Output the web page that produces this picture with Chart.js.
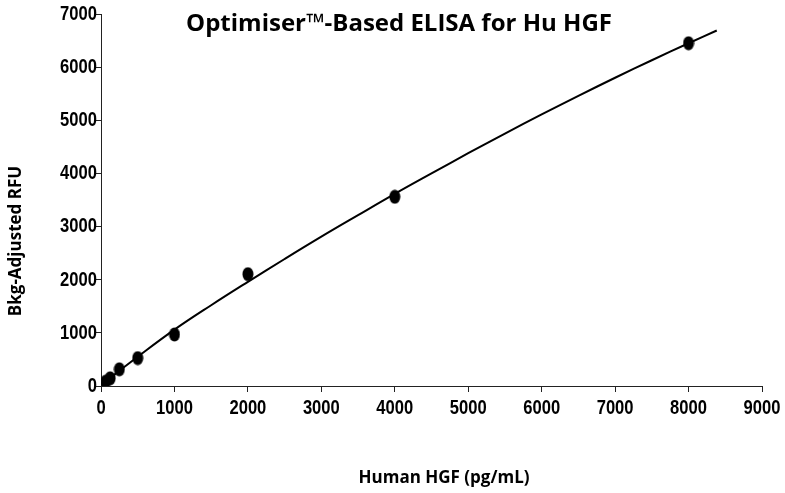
<!DOCTYPE html>
<html>
<head>
<meta charset="utf-8">
<title>Optimiser-Based ELISA for Hu HGF</title>
<script src="https://cdn.jsdelivr.net/npm/chart.js@4"></script>
<style>
  body { margin: 0; background: #fff; }
  #wrap { width: 785px; height: 493px; }
</style>
</head>
<body>
<div id="wrap"><canvas id="chartCanvas" width="785" height="493"></canvas></div>
<script>
// standards (pg/mL) and measured signal
const concentrations = [62.5, 125, 250, 500, 1000, 2000, 4000, 8000];
const rfuValues = [80, 145, 315, 525, 970, 2105, 3560, 6450];

// fitted curve
const fitX = [20, 500, 1000, 1500, 2000, 2500, 3000, 3500, 4000, 4500, 5000, 5500, 6000, 6500, 7000, 7500, 8000, 8384];
const fitY = [40, 550, 1060, 1520, 1960, 2390, 2810, 3215, 3615, 4000, 4380, 4750, 5110, 5460, 5800, 6130, 6450, 6690];

const xTicks = [0, 1000, 2000, 3000, 4000, 5000, 6000, 7000, 8000, 9000];
const yTicks = [0, 1000, 2000, 3000, 4000, 5000, 6000, 7000];

const chartTitle = "Optimiser\u2122-Based ELISA for Hu HGF";
const xTitle = "Human HGF (pg/mL)";
const yTitle = "Bkg-Adjusted RFU";

// oval marker like the original
function makeDot() {
  const c = document.createElement("canvas");
  c.width = 12;
  c.height = 15;
  const g = c.getContext("2d");
  g.fillStyle = "#000";
  g.beginPath();
  g.ellipse(6, 7.5, 5.5, 7, 0, 0, Math.PI * 2);
  g.fill();
  return c;
}

// no narrow font installed, so squeeze the tick labels by hand
function narrowText(ctx, text, x, y, align) {
  ctx.save();
  ctx.translate(x, y);
  ctx.scale(0.79, 1);
  ctx.textAlign = align;
  ctx.fillText(text, 0, 0);
  ctx.restore();
}

// title sits inside the plot area and axis titles are off-centre in the original
const textPlugin = {
  id: "texts",
  afterDraw(chart) {
    const ctx = chart.ctx;
    const sx = chart.scales.x;
    const sy = chart.scales.y;
    ctx.save();
    ctx.fillStyle = "#000";
    ctx.textBaseline = "middle";

    ctx.font = "bold 21px 'Liberation Sans', Arial, sans-serif";
    xTicks.forEach((v) => narrowText(ctx, String(v), sx.getPixelForValue(v), 408, "center"));
    yTicks.forEach((v) => narrowText(ctx, String(v), sx.left - 4, sy.getPixelForValue(v), "right"));

    ctx.textAlign = "center";
    ctx.font = "bold 24px 'Open Sans', sans-serif";
    ctx.fillText(chartTitle, 399, 24);
    ctx.font = "bold 17px 'Open Sans', sans-serif";
    ctx.fillText(xTitle, 444, 478);
    ctx.translate(16, 241);
    ctx.rotate(-Math.PI / 2);
    ctx.fillText(yTitle, 0, 0);
    ctx.restore();
  },
};

const ctx = document.getElementById("chartCanvas").getContext("2d");
window.myChart = new Chart(ctx, {
  type: "scatter",
  data: {
    datasets: [
      {
        label: "Fit",
        data: fitX.map((x, i) => ({ x: x, y: fitY[i] })),
        showLine: true,
        borderColor: "#000",
        borderWidth: 2,
        pointRadius: 0,
        tension: 0.4,
      },
      {
        label: "Standards",
        data: concentrations.map((x, i) => ({ x: x, y: rfuValues[i] })),
        pointStyle: makeDot(),
        backgroundColor: "#000",
      },
    ],
  },
  options: {
    responsive: false,
    animation: false,
    layout: { padding: { top: 14, right: 23, left: 0, bottom: 0 } },
    plugins: {
      legend: { display: false },
      tooltip: { enabled: false },
    },
    scales: {
      x: {
        type: "linear",
        min: 0,
        max: 9000,
        afterBuildTicks: (axis) => { axis.ticks = xTicks.map((v) => ({ value: v })); },
        afterFit: (axis) => { axis.height = 107; },
        grid: { drawOnChartArea: false, drawTicks: true, tickLength: 6, color: "#222" },
        border: { color: "#222", width: 1 },
        ticks: { display: false },
      },
      y: {
        type: "linear",
        min: 0,
        max: 7000,
        afterBuildTicks: (axis) => { axis.ticks = yTicks.map((v) => ({ value: v })); },
        afterFit: (axis) => { axis.width = 101; },
        grid: { drawOnChartArea: false, drawTicks: true, tickLength: 6, color: "#222" },
        border: { color: "#222", width: 1 },
        ticks: { display: false },
      },
    },
  },
  plugins: [textPlugin],
});
</script>
</body>
</html>
